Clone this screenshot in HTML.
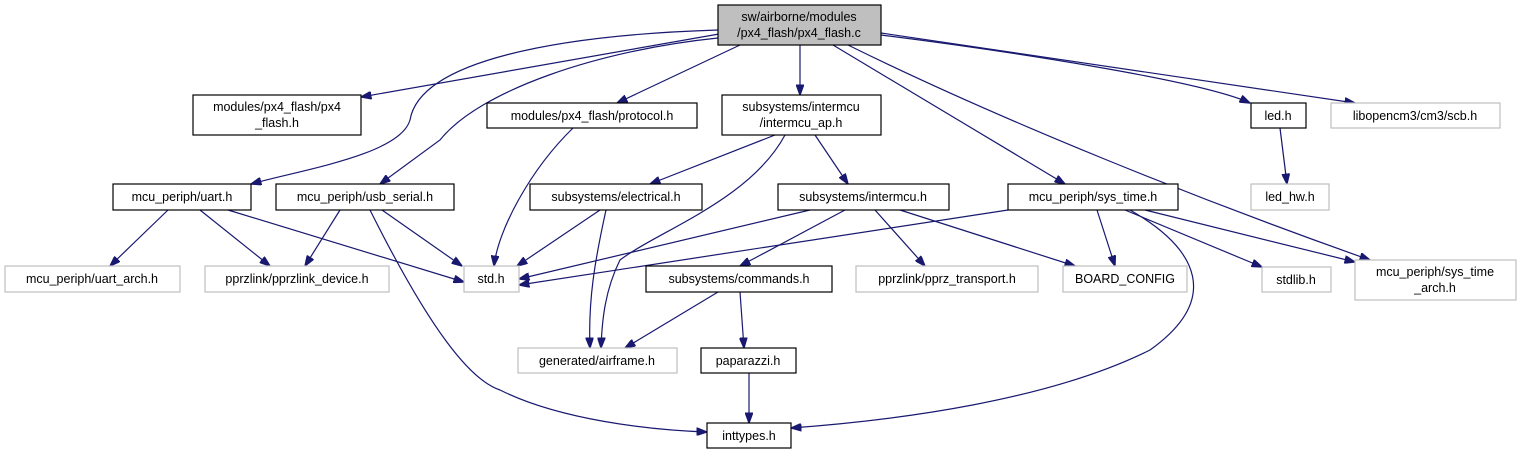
<!DOCTYPE html>
<html><head><meta charset="utf-8"><style>
body{margin:0;background:#fff;}
svg{display:block;}
text{font-family:"Liberation Sans",sans-serif;font-size:12.5px;fill:#000;text-anchor:middle;}
.b{fill:#fff;stroke:#000;stroke-width:1.2;}
.g{fill:#fff;stroke:#bfbfbf;stroke-width:1.2;}
path{fill:none;stroke:#191970;stroke-width:1.2;}
</style></head><body>
<svg width="1517" height="455" viewBox="0 0 1517 455">
<defs><marker id="a" markerWidth="11" markerHeight="8" refX="10.5" refY="4" orient="auto" markerUnits="userSpaceOnUse"><path d="M0,0 L11,4 L0,8 Z" style="fill:#191970;stroke:#191970;stroke-width:1"/></marker></defs>
<g marker-end="url(#a)">
<path d="M719,34 L361,97"/>
<path d="M718,30 C560,35 420,60 410,120 C400,155 300,170 251,184"/>
<path d="M718,38 C600,50 480,90 440,140 L380,184"/>
<path d="M740,45 L617,103"/>
<path d="M800,45 L800,95"/>
<path d="M833,45 L1065,184"/>
<path d="M848,45 C1000,120 1200,200 1370,260"/>
<path d="M881,35 C1000,50 1200,80 1250,103"/>
<path d="M881,33 L1355,103"/>
<path d="M1280,128 L1287,184"/>
<path d="M573,128 C530,170 498,230 494,266"/>
<path d="M775,135 L650,184"/>
<path d="M785,135 C750,200 660,230 620,260 C605,290 602,320 601,348"/>
<path d="M815,135 L848,184"/>
<path d="M600,210 L517,266"/>
<path d="M606,210 C595,260 588,300 590,348"/>
<path d="M168,210 L110,266"/>
<path d="M200,210 L270,266"/>
<path d="M228,210 L464,282"/>
<path d="M340,210 L305,266"/>
<path d="M382,210 L462,266"/>
<path d="M370,210 C430,330 470,380 500,390 C560,420 650,430 707,432"/>
<path d="M810,210 L519,279"/>
<path d="M845,210 L740,266"/>
<path d="M875,210 L925,266"/>
<path d="M900,210 L1075,266"/>
<path d="M1008,210 L519,285"/>
<path d="M1097,210 L1115,266"/>
<path d="M1125,210 L1262,267"/>
<path d="M1145,210 L1355,262"/>
<path d="M1130,210 C1200,250 1220,300 1150,350 C1050,400 900,420 791,428"/>
<path d="M718,292 L625,348"/>
<path d="M740,292 L744,348"/>
<path d="M749,373 L749,423"/>
</g>
<rect x="718" y="5" width="163" height="40" style="fill:#bfbfbf;stroke:#000;stroke-width:1.2"/>
<text x="799" y="21">sw/airborne/modules</text><text x="799" y="37">/px4_flash/px4_flash.c</text>
<rect class="b" x="193" y="95" width="168" height="40"/><text x="277" y="111">modules/px4_flash/px4</text><text x="277" y="127">_flash.h</text>
<rect class="b" x="487" y="103" width="210" height="25"/><text x="592" y="120">modules/px4_flash/protocol.h</text>
<rect class="b" x="722" y="95" width="159" height="40"/><text x="801" y="111">subsystems/intermcu</text><text x="801" y="127">/intermcu_ap.h</text>
<rect class="b" x="1251" y="103" width="55" height="25"/><text x="1278" y="120">led.h</text>
<rect class="g" x="1331" y="103" width="169" height="25"/><text x="1415" y="120">libopencm3/cm3/scb.h</text>
<rect class="b" x="113" y="184" width="138" height="26"/><text x="182" y="201">mcu_periph/uart.h</text>
<rect class="b" x="276" y="184" width="178" height="26"/><text x="365" y="201">mcu_periph/usb_serial.h</text>
<rect class="b" x="530" y="184" width="172" height="26"/><text x="616" y="201">subsystems/electrical.h</text>
<rect class="b" x="778" y="184" width="171" height="26"/><text x="863" y="201">subsystems/intermcu.h</text>
<rect class="b" x="1008" y="184" width="170" height="26"/><text x="1093" y="201">mcu_periph/sys_time.h</text>
<rect class="g" x="1251" y="184" width="78" height="26"/><text x="1290" y="201">led_hw.h</text>
<rect class="g" x="5" y="266" width="175" height="26"/><text x="92" y="283">mcu_periph/uart_arch.h</text>
<rect class="g" x="205" y="266" width="184" height="26"/><text x="297" y="283">pprzlink/pprzlink_device.h</text>
<rect class="g" x="464" y="266" width="55" height="26"/><text x="491" y="283">std.h</text>
<rect class="b" x="646" y="266" width="186" height="26"/><text x="739" y="283">subsystems/commands.h</text>
<rect class="g" x="856" y="266" width="182" height="26"/><text x="947" y="283">pprzlink/pprz_transport.h</text>
<rect class="g" x="1063" y="266" width="124" height="26"/><text x="1125" y="283">BOARD_CONFIG</text>
<rect class="g" x="1262" y="267" width="69" height="25"/><text x="1296" y="284">stdlib.h</text>
<rect class="g" x="1355" y="260" width="161" height="40"/><text x="1435" y="276">mcu_periph/sys_time</text><text x="1435" y="292">_arch.h</text>
<rect class="g" x="518" y="348" width="159" height="25"/><text x="597" y="365">generated/airframe.h</text>
<rect class="b" x="701" y="348" width="95" height="25"/><text x="748" y="365">paparazzi.h</text>
<rect class="b" x="707" y="423" width="84" height="25"/><text x="749" y="440">inttypes.h</text>
</svg>
</body></html>
